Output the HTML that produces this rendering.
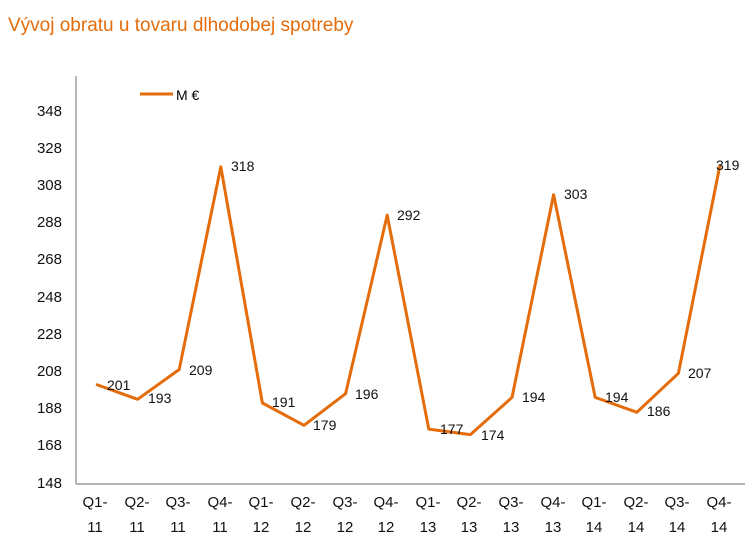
<!DOCTYPE html><html><head><meta charset="utf-8"><style>body{margin:0;background:#fff}</style></head><body>
<svg width="752" height="547" xmlns="http://www.w3.org/2000/svg" font-family="Liberation Sans, sans-serif">
<text x="8" y="31" font-size="19" fill="#E46C0A">Vývoj obratu u tovaru dlhodobej spotreby</text>
<line x1="76" y1="76" x2="76" y2="484" stroke="#888" stroke-width="1.2"/>
<line x1="76" y1="484" x2="745" y2="484" stroke="#888" stroke-width="1.2"/>
<line x1="140" y1="94" x2="173" y2="94" stroke="#E46C0A" stroke-width="3"/>
<text x="176" y="100" font-size="14">M €</text>
<g font-size="15" text-anchor="end" fill="#111">
<text x="62" y="116">348</text><text x="62" y="153">328</text><text x="62" y="190">308</text><text x="62" y="227">288</text><text x="62" y="264">268</text><text x="62" y="302">248</text><text x="62" y="339">228</text><text x="62" y="376">208</text><text x="62" y="413">188</text><text x="62" y="450">168</text><text x="62" y="488">148</text>
</g>
<polyline points="96,384.4 137.6,399.3 179.2,369.5 220.8,166.8 262.4,403 304,425.3 345.6,393.7 387.2,215.2 428.8,429.1 470.4,434.6 512,397.4 553.6,194.7 595.2,397.4 636.8,412.3 678.4,373.3 720,164.9" fill="none" stroke="#E46C0A" stroke-width="3" stroke-linejoin="round"/>
<g font-size="14" fill="#111">
<text x="107" y="390">201</text><text x="148" y="403">193</text><text x="189" y="375">209</text><text x="231" y="171">318</text>
<text x="272" y="407">191</text><text x="313" y="430">179</text><text x="355" y="399">196</text><text x="397" y="220">292</text>
<text x="440" y="434">177</text><text x="481" y="440">174</text><text x="522" y="402">194</text><text x="564" y="199">303</text>
<text x="605" y="402">194</text><text x="647" y="416">186</text><text x="688" y="378">207</text><text x="716" y="170">319</text>
</g>
<g font-size="15" text-anchor="middle" fill="#111">
<text x="95" y="507">Q1-</text><text x="137" y="507">Q2-</text><text x="178" y="507">Q3-</text><text x="220" y="507">Q4-</text>
<text x="261" y="507">Q1-</text><text x="303" y="507">Q2-</text><text x="345" y="507">Q3-</text><text x="386" y="507">Q4-</text>
<text x="428" y="507">Q1-</text><text x="469" y="507">Q2-</text><text x="511" y="507">Q3-</text><text x="553" y="507">Q4-</text>
<text x="594" y="507">Q1-</text><text x="636" y="507">Q2-</text><text x="677" y="507">Q3-</text><text x="719" y="507">Q4-</text>
<text x="95" y="532">11</text><text x="137" y="532">11</text><text x="178" y="532">11</text><text x="220" y="532">11</text>
<text x="261" y="532">12</text><text x="303" y="532">12</text><text x="345" y="532">12</text><text x="386" y="532">12</text>
<text x="428" y="532">13</text><text x="469" y="532">13</text><text x="511" y="532">13</text><text x="553" y="532">13</text>
<text x="594" y="532">14</text><text x="636" y="532">14</text><text x="677" y="532">14</text><text x="719" y="532">14</text>
</g>
</svg></body></html>
